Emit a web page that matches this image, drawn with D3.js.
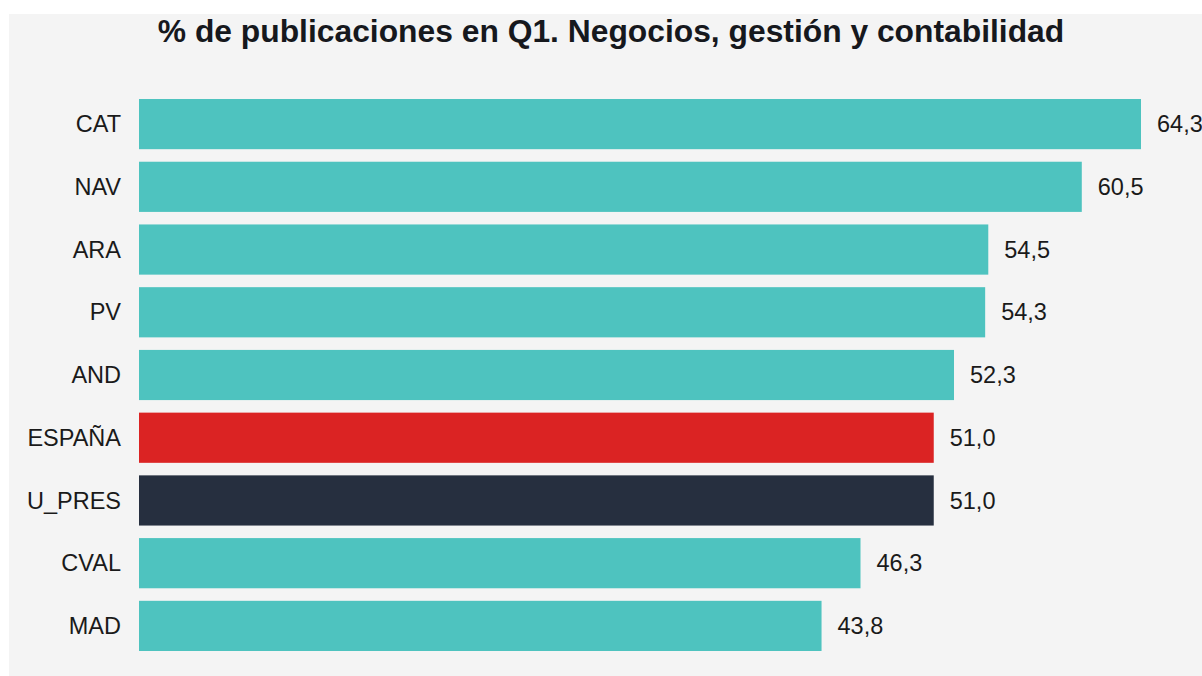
<!DOCTYPE html>
<html>
<head>
    <meta charset="utf-8">
    <script src="https://d3js.org/d3.v7.min.js"></script>
    <style>
        body { margin: 0; background: #fff; }
        .title {
            font-family: "Liberation Sans", Arial, sans-serif;
            font-size: 31.8px;
            font-weight: bold;
            fill: #16181d;
        }
        .cat, .val {
            font-family: "Liberation Sans", Arial, sans-serif;
            font-size: 23.5px;
            fill: #1a1a1a;
        }
    </style>
</head>
<body>
<script>
    // Data
    let categories = ["CAT", "NAV", "ARA", "PV", "AND", "ESPAÑA", "U_PRES", "CVAL", "MAD"];
    let values = [64.3, 60.5, 54.5, 54.3, 52.3, 51.0, 51.0, 46.3, 43.8];
    let barColors = ["#4ec3bf", "#4ec3bf", "#4ec3bf", "#4ec3bf", "#4ec3bf", "#db2323", "#262f3f", "#4ec3bf", "#4ec3bf"];
    let title = "% de publicaciones en Q1. Negocios, gestión y contabilidad";

    let data = categories.map((c, i) => ({ cat: c, value: values[i], color: barColors[i] }));

    let svg = d3.select("body").append("svg")
        .attr("width", 1202)
        .attr("height", 676);

    // panel background
    svg.append("rect")
        .attr("x", 9).attr("y", 14)
        .attr("width", 1193).attr("height", 662)
        .attr("fill", "#f4f4f4");

    svg.append("text")
        .attr("class", "title")
        .attr("x", 611)
        .attr("y", 42)
        .attr("text-anchor", "middle")
        .text(title);

    let x = d3.scaleLinear()
        .domain([0, d3.max(values)])
        .range([139, 1141]);

    let y = d3.scaleBand()
        .domain(categories)
        .range([99, 651])
        .paddingInner(0.2)
        .paddingOuter(0);

    let fmt = d => d3.format(".1f")(d).replace(".", ",");

    svg.selectAll(".bar")
        .data(data)
        .enter().append("rect")
        .attr("class", "bar")
        .attr("x", x(0))
        .attr("y", d => y(d.cat))
        .attr("width", d => x(d.value) - x(0))
        .attr("height", y.bandwidth())
        .attr("fill", d => d.color);

    svg.selectAll(".cat")
        .data(data)
        .enter().append("text")
        .attr("class", "cat")
        .attr("x", x(0) - 18)
        .attr("y", d => y(d.cat) + y.bandwidth() / 2)
        .attr("dy", "0.35em")
        .attr("text-anchor", "end")
        .text(d => d.cat);

    svg.selectAll(".val")
        .data(data)
        .enter().append("text")
        .attr("class", "val")
        .attr("x", d => x(d.value) + 16)
        .attr("y", d => y(d.cat) + y.bandwidth() / 2)
        .attr("dy", "0.35em")
        .text(d => fmt(d.value));
</script>
</body>
</html>
